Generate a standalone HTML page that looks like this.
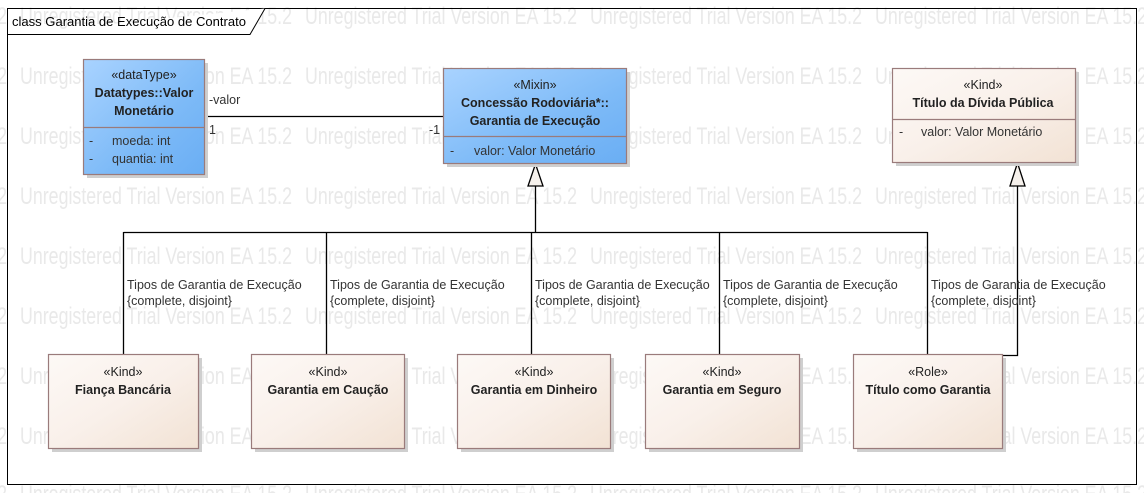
<!DOCTYPE html>
<html><head><meta charset="utf-8"><style>
html,body{margin:0;padding:0;background:#fff}
svg{display:block;font-family:"Segoe UI","Liberation Sans",sans-serif}
</style></head><body>
<svg width="1144" height="493" viewBox="0 0 1144 493" xmlns="http://www.w3.org/2000/svg">
<defs>
<linearGradient id="blue" x1="0" y1="0" x2="1" y2="1"><stop offset="0" stop-color="#a9d3ff"/><stop offset="0.6" stop-color="#7dbaf7"/><stop offset="1" stop-color="#6aaef4"/></linearGradient>
<linearGradient id="beige" x1="0" y1="0" x2="1" y2="1"><stop offset="0" stop-color="#fdf9f6"/><stop offset="0.5" stop-color="#f9f0ea"/><stop offset="1" stop-color="#f2e2d4"/></linearGradient>
</defs>
<g fill="#e9e9e9" font-size="24">
<g transform="translate(0,24)"><text x="-265" textLength="272" lengthAdjust="spacingAndGlyphs">Unregistered Trial Version EA 15.2</text><text x="20" textLength="272" lengthAdjust="spacingAndGlyphs">Unregistered Trial Version EA 15.2</text><text x="305" textLength="272" lengthAdjust="spacingAndGlyphs">Unregistered Trial Version EA 15.2</text><text x="590" textLength="272" lengthAdjust="spacingAndGlyphs">Unregistered Trial Version EA 15.2</text><text x="875" textLength="272" lengthAdjust="spacingAndGlyphs">Unregistered Trial Version EA 15.2</text></g>
<g transform="translate(0,84)"><text x="-265" textLength="272" lengthAdjust="spacingAndGlyphs">Unregistered Trial Version EA 15.2</text><text x="20" textLength="272" lengthAdjust="spacingAndGlyphs">Unregistered Trial Version EA 15.2</text><text x="305" textLength="272" lengthAdjust="spacingAndGlyphs">Unregistered Trial Version EA 15.2</text><text x="590" textLength="272" lengthAdjust="spacingAndGlyphs">Unregistered Trial Version EA 15.2</text><text x="875" textLength="272" lengthAdjust="spacingAndGlyphs">Unregistered Trial Version EA 15.2</text></g>
<g transform="translate(0,144)"><text x="-265" textLength="272" lengthAdjust="spacingAndGlyphs">Unregistered Trial Version EA 15.2</text><text x="20" textLength="272" lengthAdjust="spacingAndGlyphs">Unregistered Trial Version EA 15.2</text><text x="305" textLength="272" lengthAdjust="spacingAndGlyphs">Unregistered Trial Version EA 15.2</text><text x="590" textLength="272" lengthAdjust="spacingAndGlyphs">Unregistered Trial Version EA 15.2</text><text x="875" textLength="272" lengthAdjust="spacingAndGlyphs">Unregistered Trial Version EA 15.2</text></g>
<g transform="translate(0,204)"><text x="-265" textLength="272" lengthAdjust="spacingAndGlyphs">Unregistered Trial Version EA 15.2</text><text x="20" textLength="272" lengthAdjust="spacingAndGlyphs">Unregistered Trial Version EA 15.2</text><text x="305" textLength="272" lengthAdjust="spacingAndGlyphs">Unregistered Trial Version EA 15.2</text><text x="590" textLength="272" lengthAdjust="spacingAndGlyphs">Unregistered Trial Version EA 15.2</text><text x="875" textLength="272" lengthAdjust="spacingAndGlyphs">Unregistered Trial Version EA 15.2</text></g>
<g transform="translate(0,264)"><text x="-265" textLength="272" lengthAdjust="spacingAndGlyphs">Unregistered Trial Version EA 15.2</text><text x="20" textLength="272" lengthAdjust="spacingAndGlyphs">Unregistered Trial Version EA 15.2</text><text x="305" textLength="272" lengthAdjust="spacingAndGlyphs">Unregistered Trial Version EA 15.2</text><text x="590" textLength="272" lengthAdjust="spacingAndGlyphs">Unregistered Trial Version EA 15.2</text><text x="875" textLength="272" lengthAdjust="spacingAndGlyphs">Unregistered Trial Version EA 15.2</text></g>
<g transform="translate(0,324)"><text x="-265" textLength="272" lengthAdjust="spacingAndGlyphs">Unregistered Trial Version EA 15.2</text><text x="20" textLength="272" lengthAdjust="spacingAndGlyphs">Unregistered Trial Version EA 15.2</text><text x="305" textLength="272" lengthAdjust="spacingAndGlyphs">Unregistered Trial Version EA 15.2</text><text x="590" textLength="272" lengthAdjust="spacingAndGlyphs">Unregistered Trial Version EA 15.2</text><text x="875" textLength="272" lengthAdjust="spacingAndGlyphs">Unregistered Trial Version EA 15.2</text></g>
<g transform="translate(0,384)"><text x="-265" textLength="272" lengthAdjust="spacingAndGlyphs">Unregistered Trial Version EA 15.2</text><text x="20" textLength="272" lengthAdjust="spacingAndGlyphs">Unregistered Trial Version EA 15.2</text><text x="305" textLength="272" lengthAdjust="spacingAndGlyphs">Unregistered Trial Version EA 15.2</text><text x="590" textLength="272" lengthAdjust="spacingAndGlyphs">Unregistered Trial Version EA 15.2</text><text x="875" textLength="272" lengthAdjust="spacingAndGlyphs">Unregistered Trial Version EA 15.2</text></g>
<g transform="translate(0,444)"><text x="-265" textLength="272" lengthAdjust="spacingAndGlyphs">Unregistered Trial Version EA 15.2</text><text x="20" textLength="272" lengthAdjust="spacingAndGlyphs">Unregistered Trial Version EA 15.2</text><text x="305" textLength="272" lengthAdjust="spacingAndGlyphs">Unregistered Trial Version EA 15.2</text><text x="590" textLength="272" lengthAdjust="spacingAndGlyphs">Unregistered Trial Version EA 15.2</text><text x="875" textLength="272" lengthAdjust="spacingAndGlyphs">Unregistered Trial Version EA 15.2</text></g>
<g transform="translate(0,502)"><text x="-265" textLength="272" lengthAdjust="spacingAndGlyphs">Unregistered Trial Version EA 15.2</text><text x="20" textLength="272" lengthAdjust="spacingAndGlyphs">Unregistered Trial Version EA 15.2</text><text x="305" textLength="272" lengthAdjust="spacingAndGlyphs">Unregistered Trial Version EA 15.2</text><text x="590" textLength="272" lengthAdjust="spacingAndGlyphs">Unregistered Trial Version EA 15.2</text><text x="875" textLength="272" lengthAdjust="spacingAndGlyphs">Unregistered Trial Version EA 15.2</text></g>
</g>
<!-- frame -->
<rect x="7.5" y="8.5" width="1129" height="476" fill="none" stroke="#000"/>
<path d="M7.5 34.5 H250 L265 8.5" fill="#fff" stroke="#000"/>
<text x="12" y="26" font-size="13" fill="#000" textLength="234" lengthAdjust="spacingAndGlyphs">class Garantia de Execução de Contrato</text>

<g stroke="#000" fill="none" stroke-width="1.3">
<line x1="204" y1="116.5" x2="443" y2="116.5"/>
<line x1="535.5" y1="186" x2="535.5" y2="232"/>
<line x1="123.5" y1="232.5" x2="927.5" y2="232.5"/>
<line x1="123.5" y1="232" x2="123.5" y2="355"/>
<line x1="326.5" y1="232" x2="326.5" y2="355"/>
<line x1="531.5" y1="232" x2="531.5" y2="355"/>
<line x1="719.5" y1="232" x2="719.5" y2="355"/>
<line x1="927.5" y1="232" x2="927.5" y2="355"/>
<polyline points="1017.5,186 1017.5,355.5 1002,355.5"/>
</g>
<polygon points="535.5,164 528,186 543,186" fill="#f6f1ec" stroke="#000" stroke-width="1.3"/>
<polygon points="1017.5,163 1010,186 1025,186" fill="#f6f1ec" stroke="#000" stroke-width="1.3"/>

<g font-size="12.5" fill="#333">
<text x="209" y="104">-valor</text>
<text x="209" y="134">1</text>
<text x="429" y="134">-1</text>
</g>
<g font-size="12.5" fill="#333">
<text x="127" y="289">Tipos de Garantia de Execução</text><text x="127" y="305">{complete, disjoint}</text>
<text x="330" y="289">Tipos de Garantia de Execução</text><text x="330" y="305">{complete, disjoint}</text>
<text x="535" y="289">Tipos de Garantia de Execução</text><text x="535" y="305">{complete, disjoint}</text>
<text x="723" y="289">Tipos de Garantia de Execução</text><text x="723" y="305">{complete, disjoint}</text>
<text x="931" y="289">Tipos de Garantia de Execução</text><text x="931" y="305">{complete, disjoint}</text>
</g>

<!-- shadows -->
<g fill="#cfcfcf">
<rect x="87" y="63" width="121" height="115"/>
<rect x="447" y="72" width="183" height="95"/>
<rect x="896" y="72" width="183" height="94"/>
<rect x="52" y="358" width="150" height="94"/>
<rect x="255" y="358" width="153" height="94"/>
<rect x="461" y="358" width="153" height="94"/>
<rect x="649" y="358" width="154" height="94"/>
<rect x="857" y="358" width="149" height="94"/>
</g>
<g stroke="#9a7b7b" stroke-width="1.2">
<rect x="83.5" y="59.5" width="121" height="115" fill="url(#blue)"/>
<line x1="83.5" y1="127.5" x2="204.5" y2="127.5"/>
<rect x="443.5" y="68.5" width="183" height="95" fill="url(#blue)"/>
<line x1="443.5" y1="136.5" x2="626.5" y2="136.5"/>
<rect x="892.5" y="68.5" width="183" height="94" fill="url(#beige)"/>
<line x1="892.5" y1="119.5" x2="1075.5" y2="119.5"/>
<rect x="48.5" y="354.5" width="150" height="94" fill="url(#beige)"/>
<rect x="251.5" y="354.5" width="153" height="94" fill="url(#beige)"/>
<rect x="457.5" y="354.5" width="153" height="94" fill="url(#beige)"/>
<rect x="645.5" y="354.5" width="154" height="94" fill="url(#beige)"/>
<rect x="853.5" y="354.5" width="149" height="94" fill="url(#beige)"/>
</g>

<g font-size="12.5" fill="#222" text-anchor="middle">
<text x="144" y="79">«dataType»</text>
<text x="144" y="97" font-weight="bold">Datatypes::Valor</text>
<text x="144" y="115" font-weight="bold">Monetário</text>
<text x="535" y="89">«Mixin»</text>
<text x="535" y="107" font-weight="bold">Concessão Rodoviária*::</text>
<text x="535" y="125" font-weight="bold">Garantia de Execução</text>
<text x="983" y="89">«Kind»</text>
<text x="983" y="107" font-weight="bold">Título da Dívida Pública</text>
<text x="123" y="376">«Kind»</text><text x="123" y="394" font-weight="bold">Fiança Bancária</text>
<text x="328" y="376">«Kind»</text><text x="328" y="394" font-weight="bold">Garantia em Caução</text>
<text x="534" y="376">«Kind»</text><text x="534" y="394" font-weight="bold">Garantia em Dinheiro</text>
<text x="722" y="376">«Kind»</text><text x="722" y="394" font-weight="bold">Garantia em Seguro</text>
<text x="928" y="376">«Role»</text><text x="928" y="394" font-weight="bold">Título como Garantia</text>
</g>
<g font-size="12.5" fill="#333">
<text x="89" y="145">-</text><text x="112" y="145">moeda: int</text>
<text x="89" y="163">-</text><text x="112" y="163">quantia: int</text>
<text x="450" y="155">-</text><text x="474" y="155">valor: Valor Monetário</text>
<text x="899" y="136">-</text><text x="921" y="136">valor: Valor Monetário</text>
</g>
</svg>
</body></html>
